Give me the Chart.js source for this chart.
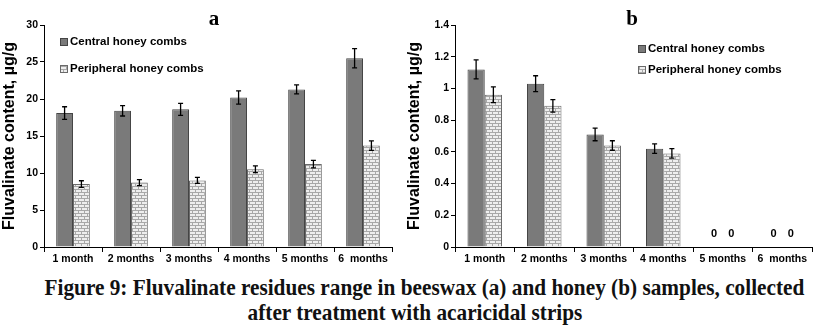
<!DOCTYPE html>
<html>
<head>
<meta charset="utf-8">
<script src="https://cdn.jsdelivr.net/npm/chart.js@4.4.1/dist/chart.umd.min.js"></script>
<style>
  body { margin: 0; background: #fff; width: 814px; height: 334px; overflow: hidden; position: relative; }
  #boxA { position: absolute; left: 0; top: 0; width: 405px; height: 268px; }
  #boxB { position: absolute; left: 405px; top: 0; width: 409px; height: 268px; }
  .cap { position: absolute; left: 14px; width: 814px; text-align: center; font-family: "Liberation Serif", serif;
         font-weight: bold; font-size: 23px; color: #111; white-space: nowrap; transform: scaleX(0.925); transform-origin: 407px 0; }
</style>
</head>
<body>
<div id="boxA"><canvas id="chartA" width="405" height="268"></canvas></div>
<div id="boxB"><canvas id="chartB" width="409" height="268"></canvas></div>
<div class="cap" style="top:275px">Figure 9: Fluvalinate residues range in beeswax (a) and honey (b) samples, collected</div>
<div class="cap" style="top:300px; left:8px">after treatment with acaricidal strips</div>
<script>
const months = ["1 month", "2 months", "3 months", "4 months", "5 months", "6  months"];

// beeswax (a)
const waxCentral = [18.1, 18.4, 18.6, 20.2, 21.3, 25.5];
const waxCentralErr = [0.85, 0.7, 0.8, 0.9, 0.6, 1.3];
const waxPeripheral = [8.5, 8.7, 9.0, 10.5, 11.2, 13.7];
const waxPeripheralErr = [0.45, 0.4, 0.4, 0.45, 0.5, 0.65];

// honey (b)
const honeyCentral = [1.12, 1.03, 0.71, 0.62, 0, 0];
const honeyCentralErr = [0.06, 0.05, 0.04, 0.03, 0, 0];
const honeyPeripheral = [0.96, 0.89, 0.64, 0.59, 0, 0];
const honeyPeripheralErr = [0.05, 0.04, 0.03, 0.03, 0, 0];

function brickPattern() {
  const c = document.createElement("canvas");
  c.width = 6; c.height = 6;
  const g = c.getContext("2d");
  g.fillStyle = "#eeeeee";
  g.fillRect(0, 0, 6, 6);
  g.fillStyle = "#a8a8a8";
  g.fillRect(0, 0, 6, 1);
  g.fillRect(0, 3, 6, 1);
  g.fillRect(0, 1, 1, 2);
  g.fillRect(3, 4, 1, 2);
  return g.createPattern(c, "repeat");
}

const errBars = {
  id: "errBars",
  afterDatasetsDraw(chart) {
    const ctx = chart.ctx;
    const y = chart.scales.y;
    ctx.save();
    chart.data.datasets.forEach((ds, i) => {
      const meta = chart.getDatasetMeta(i);
      meta.data.forEach((bar, j) => {
        const v = ds.data[j];
        const e = ds.errors[j];
        if (v === 0) {
          ctx.fillStyle = "#000";
          ctx.font = "bold 11px 'Liberation Sans', Arial";
          ctx.textAlign = "center";
          ctx.textBaseline = "bottom";
          ctx.fillText("0", bar.x, bar.y - 8);
          return;
        }
        const top = y.getPixelForValue(v + e);
        const bot = y.getPixelForValue(v - e);
        ctx.strokeStyle = "#000";
        ctx.lineWidth = 1.3;
        ctx.beginPath();
        ctx.moveTo(bar.x, top); ctx.lineTo(bar.x, bot);
        ctx.moveTo(bar.x - 2.5, top); ctx.lineTo(bar.x + 2.5, top);
        ctx.moveTo(bar.x - 2.5, bot); ctx.lineTo(bar.x + 2.5, bot);
        ctx.stroke();
      });
    });
    ctx.restore();
  }
};

const decor = {
  id: "decor",
  afterDraw(chart, args, opts) {
    const ctx = chart.ctx;
    ctx.save();
    ctx.fillStyle = "#000";
    ctx.font = "bold 21px 'Liberation Serif', serif";
    ctx.textAlign = "center";
    ctx.textBaseline = "alphabetic";
    ctx.fillText(opts.letter, opts.lx, 25);
    // legend
    ctx.font = "bold 11.5px 'Liberation Sans', Arial";
    ctx.textAlign = "left";
    ctx.textBaseline = "middle";
    chart.data.datasets.forEach((ds, i) => {
      const yy = opts.ly + i * opts.gap;
      ctx.fillStyle = ds.backgroundColor;
      ctx.fillRect(opts.mx, yy - 4, 8, 8);
      ctx.strokeStyle = ds.borderColor;
      ctx.lineWidth = 1;
      ctx.strokeRect(opts.mx + 0.5, yy - 3.5, 7, 7);
      ctx.fillStyle = "#000";
      ctx.fillText(ds.label, opts.mx + 10, yy);
    });
    ctx.restore();
  }
};

function makeChart(id, central, cErr, periph, pErr, yMax, step, yw, padR, deco) {
  return new Chart(document.getElementById(id), {
    type: "bar",
    data: {
      labels: months,
      datasets: [
        { label: "Central honey combs", data: central, errors: cErr,
          backgroundColor: "#7a7a7a", borderColor: "#454545", borderWidth: 1 },
        { label: "Peripheral honey combs", data: periph, errors: pErr,
          backgroundColor: brickPattern(), borderColor: "#6a6a6a", borderWidth: 1 }
      ]
    },
    options: {
      responsive: false,
      animation: false,
      events: [],
      layout: { padding: { top: 25, right: padR, left: 0, bottom: 0 } },
      datasets: { bar: { barPercentage: 1, categoryPercentage: 0.58 } },
      plugins: {
        legend: { display: false },
        tooltip: { enabled: false },
        decor: deco
      },
      scales: {
        x: {
          offset: true,
          grid: { offset: true, drawOnChartArea: false, tickLength: 5, color: "#000" },
          border: { color: "#000", width: 1 },
          ticks: { color: "#000", padding: 1, font: { family: "'Liberation Sans', Arial", weight: "bold", size: 10.5 }, maxRotation: 0, autoSkip: false },
          afterFit(s) { s.height = 21; }
        },
        y: {
          min: 0, max: yMax,
          grid: { drawOnChartArea: false, tickLength: 4, color: "#000" },
          border: { color: "#000", width: 1 },
          ticks: { stepSize: step, color: "#000", padding: 2,
                   callback: v => String(Number(v.toFixed(1))),
                   font: { family: "'Liberation Sans', Arial", weight: "bold", size: 10.5 } },
          title: { display: true, text: "Fluvalinate content, µg/g", color: "#000", padding: 0,
                   font: { family: "'Liberation Sans', Arial", weight: "bold", size: 16 } },
          afterFit(s) { s.width = yw; }
        }
      }
    },
    plugins: [errBars, decor]
  });
}

makeChart("chartA", waxCentral, waxCentralErr, waxPeripheral, waxPeripheralErr, 30, 5, 44, 13,
  { letter: "a", lx: 214, mx: 60, ly: 42, gap: 27 });
makeChart("chartB", honeyCentral, honeyCentralErr, honeyPeripheral, honeyPeripheralErr, 1.4, 0.2, 50, 2,
  { letter: "b", lx: 227, mx: 233, ly: 49, gap: 21 });
</script>
</body>
</html>
